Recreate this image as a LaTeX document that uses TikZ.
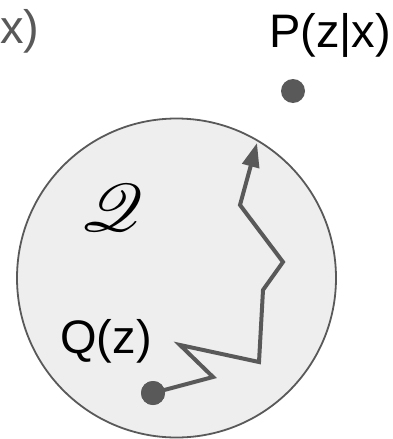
\documentclass[tikz,border=0pt]{standalone}
\usepackage{fontspec}
\setmainfont{Liberation Sans}
\usepackage{mathrsfs}
\usetikzlibrary{arrows.meta}
\definecolor{dgray}{HTML}{595959}
\definecolor{lgray}{HTML}{EEEEEE}
\tikzset{
  dot/.style={circle,fill=dgray,inner sep=0pt,minimum size=24pt},
  lbl/.style={inner sep=0pt,font=\fontsize{47}{50}\selectfont},
  walk/.style={draw=dgray,line width=4pt,-{Triangle[length=24pt,width=17pt]}},
  region/.style={circle,draw=dgray,line width=1.8pt,fill=lgray,minimum size=319pt,inner sep=0pt}
}
\begin{document}
\begin{tikzpicture}[x=1pt,y=-1pt]
\useasboundingbox (0,0) rectangle (393,439);
\node[region] (reg) at (176.5,278) {};
\node[lbl,anchor=base west,text=dgray] (qzx) at (0,43) {x)};
\node[lbl,anchor=base] (pzx) at (330,47) {P(z|x)};
\node[dot] (p) at (293,91) {};
\node[lbl,anchor=base] (qz) at (106,353) {Q(z)};
\node[inner sep=0pt] (fam) at (112,208) {\resizebox{!}{47pt}{$\mathscr{Q}$}};
\node[dot] (q) at (153,393) {};
\coordinate (w1) at (213,377);
\coordinate (w2) at (180,345);
\coordinate (w3) at (259,362);
\coordinate (w4) at (263,290);
\coordinate (w5) at (283,262);
\coordinate (w6) at (240,205);
\coordinate (tip) at (257,143);
\draw[walk] (q.center) -- (w1) -- (w2) -- (w3) -- (w4) -- (w5) -- (w6) -- (tip);
\node[dot] at (q) {};
\end{tikzpicture}
\end{document}
